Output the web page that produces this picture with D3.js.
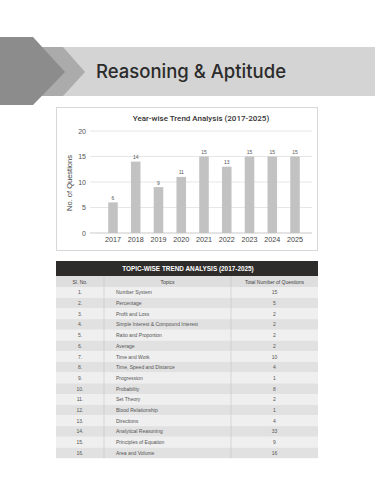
<!DOCTYPE html>
<html>
<head>
  <script src="https://cdn.jsdelivr.net/npm/d3@7"></script>
  <style>
    body { margin: 0; background: #fff; }
    svg { display: block; font-family: 'Liberation Sans', Arial, sans-serif; }
  </style>
</head>
<body>
  <script>
    const years = ['2017', '2018', '2019', '2020', '2021', '2022', '2023', '2024', '2025']
    const questions = [6, 14, 9, 11, 15, 13, 15, 15, 15]
    const yTicks = [0, 5, 10, 15, 20]

    const serial = ['1.', '2.', '3.', '4.', '5.', '6.', '7.', '8.', '9.', '10.', '11.', '12.', '13.', '14.', '15.', '16.']
    const topics = ['Number System', 'Percentage', 'Profit and Loss', 'Simple Interest & Compound Interest',
      'Ratio and Proportion', 'Average', 'Time and Work', 'Time, Speed and Distance', 'Progression',
      'Probability', 'Set Theory', 'Blood Relationship', 'Directions', 'Analytical Reasoning',
      'Principles of Equation', 'Area and Volume']
    const totals = [15, 5, 2, 2, 2, 2, 10, 4, 1, 8, 2, 1, 4, 33, 9, 16]
    const columns = ['Sl. No.', 'Topics', 'Total Number of Questions']

    const svg = d3.select('body').append('svg')
      .attr('width', 375)
      .attr('height', 500)

    // header band
    svg.append('rect')
      .attr('x', 40).attr('y', 47).attr('width', 335).attr('height', 49)
      .attr('fill', '#d4d4d4')
    svg.append('polygon')
      .attr('points', '40,47 63,47 85,72 63,96 40,96')
      .attr('fill', '#ababab')
    svg.append('polygon')
      .attr('points', '0,37 33,37 65,72 33,105 0,105')
      .attr('fill', '#8c8c8c')
    svg.append('text')
      .attr('x', 96).attr('y', 78)
      .attr('font-family', 'Inter, "Open Sans", sans-serif')
      .attr('font-size', 18.5)
      .attr('font-weight', 500)
      .attr('fill', '#2b2b2b')
      .text('Reasoning & Aptitude')

    // bar chart
    svg.append('rect')
      .attr('x', 56.5).attr('y', 107.5).attr('width', 261).attr('height', 143)
      .attr('fill', '#fff').attr('stroke', '#d8d8d8')

    svg.append('text')
      .attr('x', 201).attr('y', 121)
      .attr('text-anchor', 'middle')
      .attr('font-family', 'Roboto, sans-serif')
      .attr('font-size', 8)
      .attr('font-weight', 500)
      .attr('fill', '#333')
      .text('Year-wise Trend Analysis (2017-2025)')

    const x = d3.scaleBand().domain(years).range([95, 313]).padding(0.58)
    const y = d3.scaleLinear().domain([0, 20]).range([233, 131])

    const g = svg.append('g')

    g.selectAll('line.grid').data(yTicks).join('line')
      .attr('class', 'grid')
      .attr('x1', 90).attr('x2', 312)
      .attr('y1', d => y(d)).attr('y2', d => y(d))
      .attr('stroke', d => d === 0 ? '#bbb' : '#e0e0e0')
      .attr('stroke-width', 0.8)

    g.selectAll('text.ytick').data(yTicks).join('text')
      .attr('class', 'ytick')
      .attr('x', 86).attr('y', d => y(d) + 2.5)
      .attr('text-anchor', 'end')
      .attr('font-size', 7)
      .attr('fill', '#555')
      .text(d => d)

    g.append('text')
      .attr('transform', 'translate(72,183) rotate(-90)')
      .attr('text-anchor', 'middle')
      .attr('font-size', 7.5)
      .attr('fill', '#444')
      .text('No. of Questions')

    g.selectAll('rect.bar').data(questions).join('rect')
      .attr('class', 'bar')
      .attr('x', (d, i) => x(years[i]))
      .attr('y', d => y(d))
      .attr('width', x.bandwidth())
      .attr('height', d => y(0) - y(d))
      .attr('fill', '#c2c2c2')

    g.selectAll('text.val').data(questions).join('text')
      .attr('class', 'val')
      .attr('x', (d, i) => x(years[i]) + x.bandwidth() / 2)
      .attr('y', d => y(d) - 2.5)
      .attr('text-anchor', 'middle')
      .attr('font-size', 5)
      .attr('fill', '#555')
      .text(d => d)

    g.selectAll('text.xtick').data(years).join('text')
      .attr('class', 'xtick')
      .attr('x', d => x(d) + x.bandwidth() / 2)
      .attr('y', 242)
      .attr('text-anchor', 'middle')
      .attr('font-size', 7.2)
      .attr('fill', '#444')
      .text(d => d)

    // table
    const tLeft = 56, tRight = 318
    const colX = [56, 104, 231, 318]
    const rowH = 10.7
    const tableTop = 287

    svg.append('rect')
      .attr('x', tLeft).attr('y', 261).attr('width', tRight - tLeft).attr('height', 15)
      .attr('fill', '#2e2c2a')
    svg.append('text')
      .attr('x', 188).attr('y', 271.3)
      .attr('text-anchor', 'middle')
      .attr('font-size', 6.4)
      .attr('font-weight', 'bold')
      .attr('fill', '#fff')
      .text('TOPIC-WISE TREND ANALYSIS (2017-2025)')

    svg.append('rect')
      .attr('x', tLeft).attr('y', 276).attr('width', tRight - tLeft).attr('height', 11)
      .attr('fill', '#dedede')
    svg.selectAll('text.colhead').data(columns).join('text')
      .attr('class', 'colhead')
      .attr('x', (d, i) => (colX[i] + colX[i + 1]) / 2)
      .attr('y', 283.5)
      .attr('text-anchor', 'middle')
      .attr('font-size', 5)
      .attr('fill', '#444')
      .text(d => d)

    const rows = svg.selectAll('g.row').data(topics).join('g')
      .attr('class', 'row')
      .attr('transform', (d, i) => `translate(0,${tableTop + i * rowH})`)

    rows.append('rect')
      .attr('x', tLeft).attr('width', tRight - tLeft).attr('height', rowH)
      .attr('fill', (d, i) => i % 2 === 0 ? '#efefef' : '#e1e1e1')
    rows.append('text')
      .attr('x', (colX[0] + colX[1]) / 2).attr('y', rowH / 2 + 2)
      .attr('text-anchor', 'middle')
      .attr('font-size', 5)
      .attr('fill', '#555')
      .text((d, i) => serial[i])
    rows.append('text')
      .attr('x', 116).attr('y', rowH / 2 + 2)
      .attr('font-size', 5)
      .attr('fill', '#555')
      .text(d => d)
    rows.append('text')
      .attr('x', (colX[2] + colX[3]) / 2).attr('y', rowH / 2 + 2)
      .attr('text-anchor', 'middle')
      .attr('font-size', 5)
      .attr('fill', '#555')
      .text((d, i) => totals[i])

    svg.selectAll('line.coldiv').data([colX[1], colX[2]]).join('line')
      .attr('class', 'coldiv')
      .attr('x1', d => d).attr('x2', d => d)
      .attr('y1', 276).attr('y2', tableTop + topics.length * rowH)
      .attr('stroke', '#c4c4c4')
      .attr('stroke-width', 0.6)
  </script>
</body>
</html>
